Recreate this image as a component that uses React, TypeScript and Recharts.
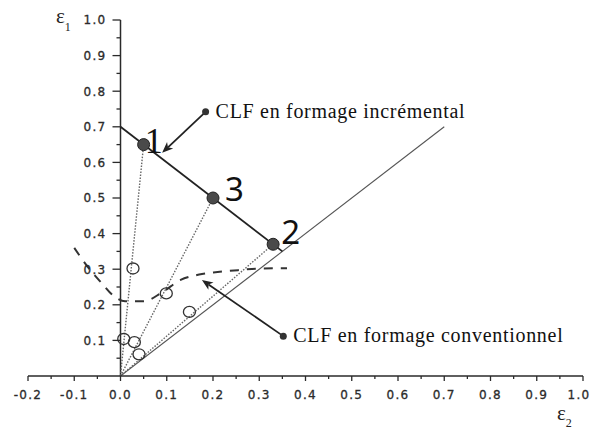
import React from 'react';
import {
  ComposedChart,
  Line,
  Scatter,
  XAxis,
  YAxis,
  ReferenceLine,
  ReferenceDot,
} from 'recharts';

// ---- axis ticks ----
const X_TICKS = [-0.2, -0.15, -0.1, -0.05, 0, 0.05, 0.1, 0.15, 0.2, 0.25, 0.3, 0.35, 0.4, 0.45, 0.5, 0.55, 0.6, 0.65, 0.7, 0.75, 0.8, 0.85, 0.9, 0.95, 1.0];
const Y_TICKS = [0.05, 0.1, 0.15, 0.2, 0.25, 0.3, 0.35, 0.4, 0.45, 0.5, 0.55, 0.6, 0.65, 0.7, 0.75, 0.8, 0.85, 0.9, 0.95, 1.0];
const X_DOMAIN = [-0.2, 1.0];
const Y_DOMAIN = [0, 1.0];

// ---- series ----
const incrementalLimit = [
  { x: 0, y: 0.7 },
  { x: 0.35, y: 0.35 },
];
const diagonal = [
  { x: 0, y: 0 },
  { x: 0.7, y: 0.7 },
];
const path1 = [
  { x: 0, y: 0 },
  { x: 0.05, y: 0.65 },
];
const path3 = [
  { x: 0, y: 0 },
  { x: 0.2, y: 0.5 },
];
const path2 = [
  { x: 0, y: 0 },
  { x: 0.33, y: 0.37 },
];
const strainPoints = [
  { x: 0.05, y: 0.65, label: '1' },
  { x: 0.2, y: 0.5, label: '3' },
  { x: 0.33, y: 0.37, label: '2' },
];
const openPoints = [
  { x: 0.007, y: 0.104 },
  { x: 0.027, y: 0.302 },
  { x: 0.03, y: 0.095 },
  { x: 0.04, y: 0.061 },
  { x: 0.099, y: 0.232 },
  { x: 0.149, y: 0.18 },
];
const conventionalLimit = [
  { x: -0.1, y: 0.36 },
  { x: -0.07, y: 0.305 },
  { x: -0.04, y: 0.26 },
  { x: -0.015, y: 0.225 },
  { x: 0.01, y: 0.21 },
  { x: 0.05, y: 0.21 },
  { x: 0.09, y: 0.235 },
  { x: 0.13, y: 0.27 },
  { x: 0.17, y: 0.285 },
  { x: 0.21, y: 0.292 },
  { x: 0.26, y: 0.298 },
  { x: 0.3, y: 0.302 },
  { x: 0.36, y: 0.303 },
];

// ---- annotations ----
const incrementalNote = { text: 'CLF en formage incrémental', dot: { x: 0.184, y: 0.742 }, tip: { x: 0.09, y: 0.627 } };
const conventionalNote = { text: 'CLF en formage conventionnel', dot: { x: 0.352, y: 0.112 }, tip: { x: 0.176, y: 0.27 } };

// ---- layout ----
const W = 590;
const H = 432;
const PLOT_LEFT = 28;
const PLOT_RIGHT = 583;
const PLOT_TOP = 20;
const PLOT_BOTTOM = 376;
const X0 = PLOT_LEFT + ((0 - X_DOMAIN[0]) / (X_DOMAIN[1] - X_DOMAIN[0])) * (PLOT_RIGHT - PLOT_LEFT);

const AXIS_COLOR = '#2a2a2a';
const TICK_FONT = 'DejaVu Sans, Verdana, sans-serif';
const SERIF = 'Liberation Serif, Times New Roman, DejaVu Serif, serif';

const isMajor = (v: number) => Math.abs(v * 10 - Math.round(v * 10)) < 1e-6;

const tickTextStyle: React.CSSProperties = {
  fontFamily: TICK_FONT,
  fontSize: 12,
  letterSpacing: '1.3px',
  fill: '#2b2b2b',
  stroke: '#2b2b2b',
  strokeWidth: 0.3,
};

const XTick = (props: any) => {
  const { x, y, payload } = props;
  const v = payload.value as number;
  const major = isMajor(v);
  return (
    <g>
      <line x1={x} x2={x} y1={y} y2={y + (major ? 5 : 3)} stroke={AXIS_COLOR} strokeWidth={1.3} />
      {major && (
        <text x={v >= 1 ? x - 4 : x} y={y + 23} textAnchor="middle" style={tickTextStyle}>
          {v.toFixed(1)}
        </text>
      )}
    </g>
  );
};

const YTick = (props: any) => {
  const { y, payload } = props;
  const v = payload.value as number;
  const major = isMajor(v);
  return (
    <g>
      <line x1={X0 - (major ? 8 : 4)} x2={X0} y1={y} y2={y} stroke={AXIS_COLOR} strokeWidth={1.3} />
      {major && (
        <text x={X0 - 14} y={y} dy="0.36em" textAnchor="end" style={tickTextStyle}>
          {v.toFixed(1)}
        </text>
      )}
    </g>
  );
};

const FilledPoint = (props: any) => {
  const { cx, cy, payload } = props;
  const label = payload?.label;
  let labelEl = null;
  if (label === '1') {
    labelEl = (
      <text x={cx + 1} y={cy + 8} style={{ fontFamily: SERIF, fontSize: 36, fill: '#111' }}>
        {label}
      </text>
    );
  } else if (label === '3') {
    labelEl = (
      <text x={cx + 12} y={cy + 3} style={{ fontFamily: 'Noto Sans, sans-serif', fontSize: 33, fill: '#111' }}>
        {label}
      </text>
    );
  } else if (label === '2') {
    labelEl = (
      <text x={cx + 8} y={cy + 0} style={{ fontFamily: 'Noto Sans, sans-serif', fontSize: 33, fill: '#111' }}>
        {label}
      </text>
    );
  }
  return (
    <g>
      <circle cx={cx} cy={cy} r={6} fill="#4a4a4a" stroke="#222" strokeWidth={1} />
      {labelEl}
    </g>
  );
};

const OpenPoint = (props: any) => {
  const { cx, cy } = props;
  return <ellipse cx={cx} cy={cy} rx={6} ry={5.5} fill="none" stroke="#333" strokeWidth={1.3} />;
};

const makeNoteDot = (text: string) => (props: any) => {
  const { cx, cy } = props;
  return (
    <g>
      <circle cx={cx} cy={cy} r={3.5} fill="#333" />
      <text x={cx + 10} y={cy + 6} style={{ fontFamily: SERIF, fontSize: 20, fill: '#111', letterSpacing: '0.7px' }}>
        {text}
      </text>
    </g>
  );
};

const Arrow = (props: any) => {
  const { x1, y1, x2, y2 } = props;
  const dx = x2 - x1;
  const dy = y2 - y1;
  const len = Math.sqrt(dx * dx + dy * dy) || 1;
  const ux = dx / len;
  const uy = dy / len;
  const headLen = 11;
  const headW = 4.5;
  const bx = x2 - ux * headLen;
  const by = y2 - uy * headLen;
  const pts = `${x2},${y2} ${bx - uy * headW},${by + ux * headW} ${bx + ux * 3},${by + uy * 3} ${bx + uy * headW},${by - ux * headW}`;
  return (
    <g>
      <line x1={x1} y1={y1} x2={bx + ux * 3} y2={by + uy * 3} stroke="#222" strokeWidth={1.8} />
      <polygon points={pts} fill="#222" />
    </g>
  );
};

const Epsilon1Label = (props: any) => {
  const vb = props.viewBox || { x: PLOT_LEFT, y: PLOT_TOP };
  return (
    <text x={vb.x + 29} y={vb.y + 3} style={{ fontFamily: SERIF, fontSize: 21, fill: '#222' }}>
      ε
      <tspan style={{ fontSize: 12 }} dy={8}>1</tspan>
    </text>
  );
};

const Epsilon2Label = (props: any) => {
  const vb = props.viewBox || { x: PLOT_LEFT, y: PLOT_BOTTOM, width: PLOT_RIGHT - PLOT_LEFT };
  return (
    <text x={vb.x + vb.width - 26} y={vb.y + 44} style={{ fontFamily: SERIF, fontSize: 21, fill: '#222' }}>
      ε
      <tspan style={{ fontSize: 12 }} dy={7}>2</tspan>
    </text>
  );
};

export default function App() {
  return (
    <div style={{ position: 'absolute', left: 0, top: 0, width: W, height: H, background: '#fff' }}>
      <ComposedChart
        width={W}
        height={H}
        margin={{ top: PLOT_TOP, right: W - PLOT_RIGHT, bottom: H - PLOT_BOTTOM - 30, left: PLOT_LEFT - 1 }}
      >
        <XAxis
          type="number"
          dataKey="x"
          domain={X_DOMAIN}
          ticks={X_TICKS}
          interval={0}
          allowDataOverflow
          height={30}
          tickSize={0}
          tickMargin={0}
          tickLine={false}
          tick={<XTick />}
          axisLine={{ stroke: AXIS_COLOR, strokeWidth: 1.5 }}
          label={{ content: <Epsilon2Label /> }}
        />
        <YAxis
          type="number"
          dataKey="y"
          domain={Y_DOMAIN}
          ticks={Y_TICKS}
          interval={0}
          allowDataOverflow
          width={1}
          tickSize={0}
          tickMargin={0}
          tickLine={false}
          axisLine={false}
          tick={<YTick />}
          label={{ content: <Epsilon1Label /> }}
        />
        <ReferenceLine
          segment={[{ x: 0, y: 0 }, { x: 0, y: 1.0 }]}
          stroke={AXIS_COLOR}
          strokeWidth={1.5}
        />
        <Line data={diagonal} dataKey="y" type="linear" stroke="#555" strokeWidth={1.1} dot={false} isAnimationActive={false} />
        <Line data={path1} dataKey="y" type="linear" stroke="#666" strokeWidth={1.4} strokeDasharray="1.5 1.5" dot={false} isAnimationActive={false} />
        <Line data={path3} dataKey="y" type="linear" stroke="#666" strokeWidth={1.4} strokeDasharray="1.5 1.5" dot={false} isAnimationActive={false} />
        <Line data={path2} dataKey="y" type="linear" stroke="#666" strokeWidth={1.4} strokeDasharray="1.5 1.5" dot={false} isAnimationActive={false} />
        <Line data={conventionalLimit} dataKey="y" type="monotone" stroke="#333" strokeWidth={2} strokeDasharray="9 8" dot={false} isAnimationActive={false} />
        <Line data={incrementalLimit} dataKey="y" type="linear" stroke="#222" strokeWidth={1.8} dot={false} isAnimationActive={false} />
        <Scatter data={openPoints} dataKey="y" shape={<OpenPoint />} isAnimationActive={false} />
        <Scatter data={strainPoints} dataKey="y" shape={<FilledPoint />} isAnimationActive={false} />
        <ReferenceLine segment={[incrementalNote.dot, incrementalNote.tip]} shape={<Arrow />} />
        <ReferenceLine segment={[conventionalNote.dot, conventionalNote.tip]} shape={<Arrow />} />
        <ReferenceDot x={incrementalNote.dot.x} y={incrementalNote.dot.y} r={3.5} shape={makeNoteDot(incrementalNote.text)} />
        <ReferenceDot x={conventionalNote.dot.x} y={conventionalNote.dot.y} r={3.5} shape={makeNoteDot(conventionalNote.text)} />
      </ComposedChart>
    </div>
  );
}
